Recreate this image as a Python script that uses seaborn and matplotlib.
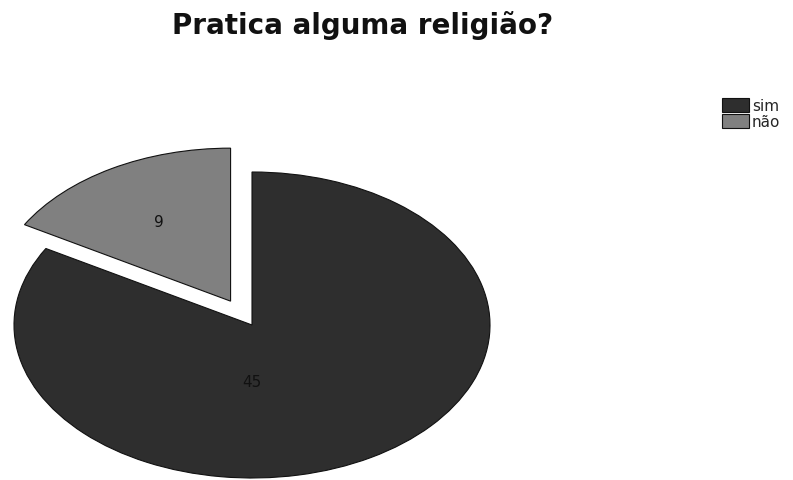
import matplotlib
matplotlib.use("Agg")
import matplotlib.pyplot as plt
import seaborn as sns

# Survey answers
categories = ["sim", "não"]
counts = [45, 9]
title = "Pratica alguma religião?"

sns.set_theme(style="white")
plt.rcParams["font.family"] = ["DejaVu Sans"]

colors = ["#2e2e2e", "#808080"]

W, H = 793, 481
fig = plt.figure(figsize=(W / 100, H / 100), dpi=100)

# pie centre at (252, 326) px, radii 238 x 153 px
cx, cy, rx, ry = 252, 326, 238, 153
xlim = (-1.1, 1.1)
ylim = (-1.05, 1.35)
left_px = cx + rx * xlim[0]
right_px = cx + rx * xlim[1]
top_px = cy - ry * ylim[1]
bot_px = cy - ry * ylim[0]
ax = fig.add_axes([left_px / W, 1 - bot_px / H,
                   (right_px - left_px) / W, (bot_px - top_px) / H])

wedges, texts, autotexts = ax.pie(
    counts,
    colors=colors,
    startangle=90,
    counterclock=False,
    explode=[0, 0.18],
    autopct=lambda p: f"{round(p * sum(counts) / 100):d}",
    pctdistance=0.6,
    wedgeprops=dict(edgecolor="#111111", linewidth=0.8),
    textprops=dict(fontsize=11, color="#111111"),
)
# place the large count below the centre
autotexts[0].set_position((0, -0.37))

ax.set_aspect("auto")
ax.set_xlim(*xlim)
ax.set_ylim(*ylim)
ax.axis("off")

fig.text(363 / W, 1 - 26 / H, title, ha="center", va="center",
         fontsize=20, fontweight="bold", color="#111111")

fig.legend(wedges, categories, loc="upper left",
           bbox_to_anchor=(722 / W, 1 - 99 / H), frameon=False,
           fontsize=11, handlelength=1.75, handleheight=1.05,
           handletextpad=0.2, labelspacing=0.05, borderpad=0,
           borderaxespad=0)

fig.savefig("out.png", dpi=100, facecolor="white")
